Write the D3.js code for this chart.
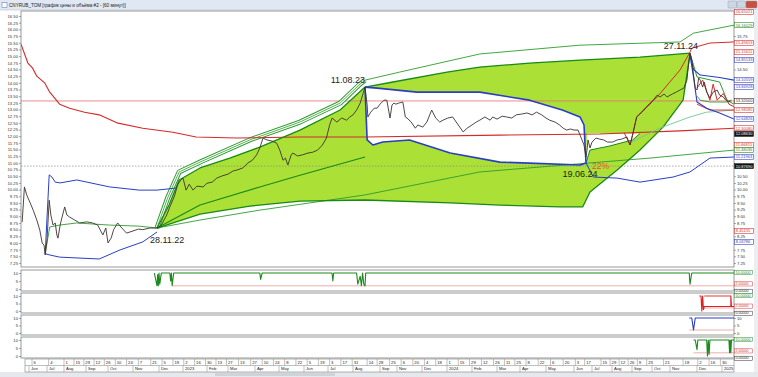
<!DOCTYPE html>
<html>
<head>
<meta charset="utf-8">
<script src="https://cdn.jsdelivr.net/npm/d3@7"></script>
<style>
html, body { margin: 0; padding: 0; background: #fff; }
svg { display: block; font-family: "Liberation Sans", Arial, sans-serif; }
</style>
</head>
<body>
<div id="chart"></div>
<script>
// ---- data ----
const price = [
  ["2022-05-26",8.78],["2022-05-28",10.1],["2022-05-30",9.8],["2022-06-03",9.5],["2022-06-08",9.23],["2022-06-14",8.86],["2022-06-19",8.48],["2022-06-23",8.0],["2022-06-26",7.92],["2022-06-28",7.55],
  ["2022-07-01",8.11],["2022-07-05",9.6],["2022-07-08",9.05],["2022-07-12",8.67],["2022-07-16",8.75],["2022-07-19",8.3],["2022-07-21",8.18],["2022-07-25",8.67],["2022-07-28",8.93],["2022-08-02",9.35],
  ["2022-08-05",9.05],["2022-08-09",8.97],["2022-08-16",8.86],["2022-08-23",8.75],["2022-09-02",8.79],["2022-09-10",8.75],["2022-09-17",8.67],["2022-09-24",8.3],["2022-09-28",8.56],["2022-10-01",8.0],
  ["2022-10-05",8.19],["2022-10-08",8.5],["2022-10-13",8.75],["2022-10-17",8.6],["2022-10-24",8.37],["2022-11-01",8.45],["2022-11-07",8.52],["2022-11-12",8.5],["2022-11-20",8.56],["2022-11-28",8.56],
  ["2022-12-04",8.67],["2022-12-11",9.05],["2022-12-15",9.35],["2022-12-21",9.76],["2022-12-25",10.17],["2022-12-29",10.36],["2023-01-01",10.43],["2023-01-05",9.98],["2023-01-09",10.2],["2023-01-14",9.98],
  ["2023-01-19",10.13],["2023-01-27",10.1],["2023-02-01",10.24],["2023-02-08",10.28],["2023-02-14",10.43],["2023-02-21",10.51],["2023-03-01",10.58],["2023-03-07",10.7],["2023-03-11",10.73],["2023-03-18",10.81],
  ["2023-03-24",11.0],["2023-03-29",11.1],["2023-04-03",11.3],["2023-04-07",11.56],["2023-04-11",11.93],["2023-04-16",11.86],["2023-04-22",11.82],["2023-04-28",11.74],["2023-05-02",11.48],["2023-05-06",11.1],
  ["2023-05-09",11.18],["2023-05-12",10.92],["2023-05-16",11.29],["2023-05-18",11.37],["2023-05-24",11.26],["2023-05-30",11.3],["2023-06-06",11.37],["2023-06-12",11.4],["2023-06-18",11.48],["2023-06-24",11.67],
  ["2023-06-29",11.93],["2023-07-03",12.42],["2023-07-06",12.68],["2023-07-12",12.53],["2023-07-18",12.68],["2023-07-24",12.6],["2023-07-28",12.72],["2023-08-01",12.8],["2023-08-04",12.98],["2023-08-07",13.24],
  ["2023-08-09",13.54],["2023-08-11",13.84],["2023-08-14",13.17],["2023-08-15",12.72],["2023-08-19",12.9],["2023-08-24",13.05],["2023-08-28",13.05],["2023-09-01",13.2],["2023-09-11",13.35],["2023-09-18",13.35],
  ["2023-09-26",12.68],["2023-10-01",13.17],["2023-10-13",13.24],["2023-10-25",13.2],["2023-11-03",13.24],["2023-11-08",13.28],["2023-11-11",12.72],["2023-11-13",12.68],["2023-11-18",12.53],["2023-11-23",12.3],
  ["2023-11-26",12.42],["2023-12-02",12.34],["2023-12-07",12.53],["2023-12-13",12.98],["2023-12-18",12.68],["2023-12-23",12.53],["2023-12-27",12.6],["2024-01-02",12.68],["2024-01-08",12.72],["2024-01-15",12.42],
  ["2024-01-21",12.16],["2024-01-26",12.3],["2024-02-01",12.42],["2024-02-06",12.53],["2024-02-10",12.6],["2024-02-16",12.72],["2024-02-22",12.6],["2024-02-25",12.72],["2024-03-01",12.64],["2024-03-08",12.75],
  ["2024-03-14",12.72],["2024-03-21",12.68],["2024-03-27",12.8],["2024-04-03",12.83],["2024-04-09",12.87],["2024-04-15",12.8],["2024-04-20",12.9],["2024-04-26",12.8],["2024-05-01",12.68],["2024-05-05",12.6],
  ["2024-05-11",12.53],["2024-05-16",12.42],["2024-05-20",12.3],["2024-05-24",12.23],["2024-05-28",12.27],["2024-06-01",12.23],["2024-06-07",12.23],["2024-06-13",11.86],["2024-06-16",11.67],["2024-06-19",11.22],
  ["2024-06-21",11.48],["2024-06-23",11.86],["2024-06-27",11.56],["2024-07-01",11.78],["2024-07-07",11.93],["2024-07-13",11.89],["2024-07-19",11.86],["2024-07-25",11.78],["2024-08-02",11.78],["2024-08-09",11.86],
  ["2024-08-16",11.89],["2024-08-24",11.97],["2024-08-29",11.67],["2024-09-02",12.04],["2024-09-08",12.72],["2024-09-16",12.9],["2024-09-23",13.09],["2024-09-28",13.2],["2024-10-03",13.35],["2024-10-10",13.54],
  ["2024-10-15",13.47],["2024-10-22",13.58],["2024-10-27",13.47],["2024-11-04",13.58],["2024-11-09",13.65],["2024-11-14",13.73],["2024-11-19",13.8],["2024-11-23",14.1],["2024-11-25",14.66],["2024-11-27",15.11],
  ["2024-11-28",14.85],["2024-11-29",14.29],["2024-11-30",13.8],["2024-12-01",13.73],["2024-12-03",14.18],["2024-12-05",14.1],["2024-12-08",13.84],["2024-12-10",14.03],["2024-12-13",13.65],["2024-12-17",13.43],
  ["2024-12-21",13.65],["2024-12-26",13.73],["2024-12-29",13.54],["2025-01-03",13.47],["2025-01-07",13.35],["2025-01-12",13.28],["2025-01-16",13.35]
];

const redMA = [["2022-05-25",15.45],["2022-05-31",14.74],["2022-06-07",14.55],["2022-06-14",14.25],["2022-06-27",14.0],["2022-07-06",13.65],["2022-07-24",13.2],["2022-08-09",13.05],["2022-08-30",12.9],["2022-09-19",12.8],["2022-10-12",12.5],["2022-11-12",12.3],["2022-12-19",12.15],["2023-01-18",11.97],["2023-03-11",11.93],["2023-05-27",11.97],["2023-08-11",11.97],["2024-03-04",12.04],["2024-07-13",12.08],["2024-11-14",12.2],["2025-01-20",12.3]];

// anchored from the June 2022 low
const vwapLow = [["2022-06-28",7.6],["2022-07-06",8.6],["2022-07-24",8.67],["2022-08-19",8.75],["2022-10-03",8.67],["2022-11-08",8.63],["2022-11-28",8.56],["2023-01-23",8.86],["2023-04-07",9.23],["2023-08-11",9.8],["2024-02-10",10.66],["2024-06-21",10.99],["2024-09-28",11.18],["2025-01-20",11.48]];
const bandLowUp = [["2022-06-28",7.6],["2022-07-05",10.55],["2022-07-10",10.47],["2022-07-16",10.28],["2022-07-25",10.25],["2022-08-19",10.36],["2022-10-03",10.1],["2022-11-08",9.98],["2022-11-28",9.98],["2022-12-24",10.06]];
const bandLowDn = [["2022-06-28",7.6],["2022-07-06",7.55],["2022-07-24",7.47],["2022-09-19",7.4],["2022-10-16",7.74],["2022-11-12",8.04],["2022-11-28",8.41]];

// anchored 28.11.22
const cone1Top = [["2022-11-28",8.56],["2022-12-14",9.42],["2022-12-27",10.36],["2023-01-23",10.81],["2023-03-03",11.18],["2023-04-07",11.59],["2023-05-27",12.23],["2023-07-16",12.98],["2023-08-11",13.84],["2023-10-07",14.03],["2024-01-01",14.4],["2024-02-10",14.59],["2024-04-12",14.74],["2024-06-10",14.85],["2024-09-13",14.96],["2024-11-27",15.11]];
const cone1Bottom = [["2022-11-28",8.56],["2023-01-23",9.08],["2023-03-26",9.38],["2023-05-27",9.57],["2023-08-11",9.61],["2024-01-05",9.5],["2024-03-05",9.42],["2024-05-16",9.35],["2024-06-14",9.35],["2024-06-27",9.91],["2024-08-09",10.73],["2024-09-13",11.48],["2024-10-20",12.34],["2024-11-18",13.35],["2024-11-27",15.08]];
const cone1Mid = [["2022-11-28",8.56],["2023-01-23",9.42],["2023-04-07",10.1],["2023-05-27",10.54],["2023-08-11",11.22]];
const outerTriple = [["2022-11-28",8.56],["2022-12-12",9.68],["2022-12-27",10.66],["2023-01-23",11.03],["2023-03-26",11.86],["2023-05-27",12.53],["2023-07-16",13.24],["2023-08-06",13.92],["2023-08-11",14.1]];
const outerUpper = [["2023-08-11",14.1],["2023-11-04",14.4],["2024-02-10",15.08],["2024-06-10",15.41],["2024-11-14",15.53],["2024-11-29",15.86],["2025-01-20",16.16]];

// anchored 11.08.23
const cone2Top = [["2023-08-11",13.84],["2023-08-28",13.8],["2023-11-25",13.65],["2024-02-10",13.65],["2024-04-12",13.35],["2024-05-19",12.98],["2024-06-10",12.72],["2024-06-16",12.42],["2024-06-19",11.0]];
const cone2Bottom = [["2023-08-11",13.84],["2023-08-14",11.86],["2023-08-22",11.67],["2023-09-08",11.78],["2023-11-16",11.86],["2024-01-05",11.37],["2024-03-05",11.03],["2024-04-12",10.99],["2024-06-10",10.92],["2024-06-19",11.0]];

// anchored 19.06.24
const cone3Top = [["2024-06-19",11.0],["2024-06-21",12.1],["2024-07-28",12.1],["2024-09-13",12.1]];
const cone3Bottom = [["2024-06-19",11.0],["2024-06-27",11.48],["2024-07-28",11.63],["2024-09-02",11.86],["2024-09-13",12.1]];
const band3Low = [["2024-06-19",11.0],["2024-07-03",10.47],["2024-08-09",10.43],["2024-09-13",10.28],["2024-11-05",10.47],["2024-11-27",10.66],["2024-12-17",11.18],["2025-01-20",11.22]];
const band3Mid = [["2024-08-29",11.75],["2024-10-14",12.3],["2024-11-27",12.72],["2024-12-13",12.9],["2025-01-20",12.98]];
const band3Up = [["2024-08-20",12.12],["2024-08-29",11.67],["2024-09-08",12.72],["2024-09-28",13.24],["2024-10-10",13.47],["2024-11-14",14.48],["2024-11-27",15.15],["2024-11-28",15.3],["2024-12-17",15.49],["2025-01-20",15.53]];

// anchored 27.11.24
const peakBlueUp = [["2024-11-27",15.11],["2024-11-29",14.5],["2024-12-05",14.29],["2024-12-29",14.2],["2025-01-20",14.1]];
const peakBlueDn = [["2024-11-27",15.04],["2024-11-29",14.22],["2024-12-01",13.28],["2024-12-13",13.05],["2024-12-29",12.87],["2025-01-20",12.64]];
const peakGreen = [["2024-11-27",15.11],["2024-12-01",14.22],["2024-12-29",14.03],["2025-01-09",13.35],["2025-01-20",13.2]];
const peakGreenLow = [["2024-12-01",13.5],["2024-12-05",13.35],["2024-12-17",13.28],["2025-01-09",13.28],["2025-01-14",13.35]];
const peakRed = [["2024-12-01",13.8],["2024-12-08",14.1],["2024-12-17",13.35],["2024-12-21",13.95],["2024-12-26",13.35],["2025-01-03",13.6],["2025-01-12",13.2],["2025-01-20",13.1]];
const peakRedLow = [["2024-12-01",13.2],["2024-12-17",12.98],["2025-01-20",12.98]];

const levelRed = 13.32;
const levelGray = 10.88;

const anchors = [
  { date: "2022-11-28", value: 8.56, text: "28.11.22" },
  { date: "2023-08-11", value: 13.84, text: "11.08.23" },
  { date: "2024-06-19", value: 11.22, text: "19.06.24" },
  { date: "2024-11-27", value: 15.11, text: "27.11.24" }
];
const dropText = "22%";

const markerValues = [16.65021,16.16029,15.49653,15.15611,14.85133,14.10559,13.84928,13.32000,12.98585,12.64826,12.30080,12.08630,11.66815,11.48036,11.21963,10.87690,8.45135,8.03786];
const markerKinds  = ["red","green","red","red","blue","blue","blue","level","red","blue","red","last","red","green","blue","last","red","blue"];

// lower indicator panels (0..10)
const signalA = [["2022-11-25",10],["2022-11-28",2],["2022-11-29",9],["2022-11-30",2],["2022-12-01",10],["2022-12-02",3],["2022-12-04",10],["2022-12-15",10],["2022-12-16",5],["2022-12-17",10],["2022-12-18",2],["2022-12-20",10],["2023-04-07",10],["2023-04-08",6],["2023-04-10",10],["2023-07-06",10],["2023-07-07",5],["2023-07-08",10],["2023-08-04",10],["2023-08-05",3],["2023-08-07",8],["2023-08-08",2],["2023-08-09",10],["2023-08-10",3],["2023-08-11",2],["2023-08-12",10],["2024-11-26",10],["2024-11-27",3],["2024-11-28",10],["2025-01-20",10]];
const signalB = [["2024-12-04",10],["2024-12-06",10],["2024-12-07",0],["2024-12-08",10],["2024-12-09",1],["2024-12-10",3],["2025-01-15",3],["2025-01-15",10],["2025-01-16",3],["2025-01-20",3]];
const signalBCap = [["2024-12-10",10],["2025-01-15",10]];
const signalC = [["2024-11-26",10],["2024-11-28",10],["2024-11-29",2],["2024-11-30",10],["2025-01-20",10]];
const signalD = [["2024-11-29",10],["2024-11-30",10],["2024-12-01",4],["2024-12-02",10],["2024-12-13",10],["2024-12-14",0],["2024-12-15",10],["2024-12-16",1],["2024-12-17",10],["2025-01-12",10],["2025-01-13",2],["2025-01-14",10],["2025-01-15",2],["2025-01-16",10],["2025-01-20",10]];
const panelLevel = [2, 2, 2, 2];
const panelLevelStart = ["2022-12-18", "2024-12-06", "2024-11-26", "2024-11-29"];

const monthTicks = ["2022-06-01","2022-07-01","2022-08-01","2022-09-01","2022-10-01","2022-11-01","2022-12-01","2023-01-01","2023-02-01","2023-03-01","2023-04-01","2023-05-01","2023-06-01","2023-07-01","2023-08-01","2023-09-01","2023-11-01","2023-12-01","2024-01-01","2024-02-01","2024-03-01","2024-04-01","2024-05-01","2024-06-01","2024-07-01","2024-08-01","2024-09-01","2024-10-01","2024-11-01","2024-12-01","2025-01-01"];

// ---- layout ----
const W = 758, H = 377;
const plot = { left: 21, right: 734, top: 11, bottom: 267 };
const panels = [
  { top: 270, bottom: 291 },
  { top: 293, bottom: 313 },
  { top: 315, bottom: 335 },
  { top: 337, bottom: 358 }
];
// time axis of the terminal is bar-indexed, so the scale is piecewise
const xBreaks = [["2022-05-25",21],["2022-06-01",29],["2022-07-01",47],["2022-08-01",64],["2022-09-01",86],["2022-10-01",108],["2022-11-01",133],["2022-11-28",157],["2022-12-01",159],["2023-01-01",183],["2023-02-01",207],["2023-03-01",228],["2023-04-01",255],["2023-05-01",279],["2023-06-01",304],["2023-07-01",328],["2023-08-01",353],["2023-08-11",365],["2023-09-01",380],["2023-10-01",392],["2023-11-01",397],["2023-12-01",422],["2024-01-01",447],["2024-02-01",472],["2024-03-01",497],["2024-04-01",520],["2024-05-01",546],["2024-06-01",574],["2024-06-19",586],["2024-07-01",592],["2024-08-01",612],["2024-09-01",632],["2024-10-01",652],["2024-11-01",670],["2024-11-27",690],["2024-12-01",697],["2025-01-01",722],["2025-01-20",734]];

const parse = d3.utcParse("%Y-%m-%d");
const P = arr => arr.map(([d, v]) => [parse(d), v]);

const x = d3.scaleUtc()
  .domain(xBreaks.map(d => parse(d[0])))
  .range(xBreaks.map(d => d[1]));
const y = d3.scaleLinear().domain([7.1, 16.69]).range([plot.bottom, plot.top]);

const line = d3.line().x(d => x(d[0])).y(d => y(d[1]));
const poly = (top, bottom) => line(P(top).concat(P(bottom).reverse())) + "Z";

const LIME = "#abe036", DKGREEN = "#188a18", GREEN = "#2d9d2d", BLUE = "#2b3ec2",
      RED = "#d42a2a", PRICE = "#3e3230";

const svg = d3.select("#chart").append("svg").attr("width", W).attr("height", H);
svg.append("rect").attr("width", W).attr("height", H).attr("fill", "#fff");

// window chrome
svg.append("rect").attr("x", 0).attr("y", 0).attr("width", W).attr("height", 10).attr("fill", "#dfe8f3");
svg.append("line").attr("x1", 0).attr("x2", W).attr("y1", 10).attr("y2", 10).attr("stroke", "#b9c4d2").attr("stroke-width", 0.6);
svg.append("rect").attr("x", 2).attr("y", 2.5).attr("width", 5).attr("height", 5).attr("fill", "#fff").attr("stroke", "#6a86ad").attr("stroke-width", 0.6);
svg.append("text").attr("x", 9).attr("y", 7).attr("font-size", 4.6).attr("fill", "#222")
  .text("CNYRUB_TOM [график цены и объёма #2 - [60 минут]]");
[[728, "#cdd7e4"], [737, "#cdd7e4"], [746, "#c9503f"]].forEach(([bx, c]) => {
  svg.append("rect").attr("x", bx).attr("y", 1).attr("width", bx === 746 ? 11 : 8.5).attr("height", 7)
    .attr("rx", 1).attr("fill", c).attr("stroke", "#8b97a8").attr("stroke-width", 0.4);
});
svg.append("rect").attr("x", 754).attr("y", 11).attr("width", 4).attr("height", 361).attr("fill", "#eceef2");
svg.append("rect").attr("x", 0).attr("y", 372).attr("width", W).attr("height", 5).attr("fill", "#e5e8ec");
svg.append("rect").attr("x", 215).attr("y", 373).attr("width", 120).attr("height", 3).attr("fill", "#cfd4da");

// ---- main price panel ----
svg.append("clipPath").attr("id", "clipMain").append("rect")
  .attr("x", plot.left).attr("y", plot.top).attr("width", plot.right - plot.left).attr("height", plot.bottom - plot.top);
const g = svg.append("g").attr("clip-path", "url(#clipMain)");

// filled regions
g.append("path").attr("d", poly(cone1Top, cone1Bottom)).attr("fill", LIME);
g.append("path").attr("d", poly(cone2Top, cone2Bottom)).attr("fill", "#fff");
g.append("path").attr("d", poly(cone3Top, cone3Bottom)).attr("fill", "#fff");

// levels
g.append("line").attr("x1", plot.left).attr("x2", plot.right).attr("y1", y(levelRed)).attr("y2", y(levelRed))
  .attr("stroke", "#e27070").attr("stroke-width", 0.8);
g.append("line").attr("x1", plot.left).attr("x2", plot.right).attr("y1", y(levelGray)).attr("y2", y(levelGray))
  .attr("stroke", "#8a8a8a").attr("stroke-width", 0.7).attr("stroke-dasharray", "1.5,1.5");

const draw = (data, color, width) => g.append("path").attr("d", line(P(data))).attr("fill", "none")
  .attr("stroke", color).attr("stroke-width", width).attr("stroke-linejoin", "round");

// outer (triple) channel line
draw(outerTriple, GREEN, 5);
draw(outerTriple, "#fff", 3);
draw(outerTriple, GREEN, 0.8);
draw(outerUpper, GREEN, 0.9);

draw(redMA, RED, 1.1);
draw(vwapLow, GREEN, 0.9);
draw(bandLowUp, BLUE, 1);
draw(bandLowDn, BLUE, 1);

draw(cone1Mid, DKGREEN, 1.1);
draw(cone1Top, DKGREEN, 1.3);
draw(cone1Bottom, DKGREEN, 1.3);
draw(cone3Bottom, DKGREEN, 1);

draw(band3Low, BLUE, 1);
draw(band3Mid, "#74c49a", 0.9);
draw(band3Up, RED, 1);

draw(cone2Top, BLUE, 1.6);
draw(cone2Bottom, BLUE, 1.6);

draw(peakGreenLow, GREEN, 0.9);
draw(peakGreen, GREEN, 1);
draw(peakRedLow, RED, 0.9);
draw(peakRed, RED, 1);
draw(peakBlueUp, BLUE, 1.1);
draw(peakBlueDn, BLUE, 1.1);

draw(price, PRICE, 0.9);

// anchor labels
const lab = svg.append("g").attr("font-size", 9).attr("fill", "#1e1e1e");
const a = anchors.map(d => ({ ...d, px: x(parse(d.date)), py: y(d.value) }));
lab.append("text").attr("x", a[0].px - 7).attr("y", a[0].py + 15).text(a[0].text);
lab.append("text").attr("x", a[1].px).attr("y", a[1].py - 4).attr("text-anchor", "end").text(a[1].text);
lab.append("text").attr("x", a[2].px - 6).attr("y", a[2].py + 19.5).attr("text-anchor", "middle").text(a[2].text);
lab.append("text").attr("x", a[3].px + 8).attr("y", a[3].py - 4).attr("text-anchor", "end").text(a[3].text);
lab.append("text").attr("x", a[2].px + 6).attr("y", a[2].py + 12).attr("font-size", 8.5).attr("fill", "#e8503a").text(dropText);

// frame + y axes
svg.append("rect").attr("x", plot.left).attr("y", plot.top).attr("width", plot.right - plot.left)
  .attr("height", plot.bottom - plot.top).attr("fill", "none").attr("stroke", "#808080").attr("stroke-width", 0.8);

const yTicks = d3.range(7.25, 16.51, 0.25);
const fmt2 = d3.format(".2f");
// the right-hand tick labels are hidden where a coloured marker box covers them
const freeRight = yTicks.filter(t => markerValues.every(m => Math.abs(y(t) - y(m)) > 5.2));
const axL = svg.append("g").attr("transform", `translate(${plot.left},0)`)
  .call(d3.axisLeft(y).tickValues(yTicks).tickFormat(fmt2).tickSize(2).tickPadding(1));
const axR = svg.append("g").attr("transform", `translate(${plot.right},0)`)
  .call(d3.axisRight(y).tickValues(freeRight).tickFormat(fmt2).tickSize(2).tickPadding(1));
[axL, axR].forEach(ax => {
  ax.select(".domain").remove();
  ax.selectAll("line").attr("stroke", "#555").attr("stroke-width", 0.5);
  ax.selectAll("text").attr("font-size", 4.2).attr("fill", "#333").attr("font-family", "Liberation Sans, Arial, sans-serif");
});

// coloured value markers on the right
const kindColor = { red: "#d23434", green: "#2a8a2a", blue: "#3444c2", level: "#333", last: "#222" };
const fmt5 = d3.format(".5f");
markerValues.forEach((v, i) => {
  const k = markerKinds[i];
  const yy = y(v);
  svg.append("rect").attr("x", 734.5).attr("y", yy - 2.5).attr("width", 19).attr("height", 5)
    .attr("fill", k === "last" ? "#111" : "#fff").attr("stroke", kindColor[k]).attr("stroke-width", 0.6);
  svg.append("text").attr("x", 735.8).attr("y", yy + 1.4).attr("font-size", 4)
    .attr("fill", k === "last" ? "#fff" : kindColor[k]).text(fmt5(v));
});

// ---- indicator panels ----
const signals = [signalA, signalB, signalC, signalD];
const sigColor = ["#1b8a1b", "#e02020", "#2b3ec2", "#1b8a1b"];
const sigBoxed = [true, true, false, true];
panels.forEach((p, i) => {
  const ys = d3.scaleLinear().domain([0, 10]).range([p.bottom - 2, p.top + 3]);
  const ln = d3.line().x(d => x(d[0])).y(d => ys(d[1]));
  svg.append("rect").attr("x", plot.left).attr("y", p.top).attr("width", plot.right - plot.left)
    .attr("height", p.bottom - p.top).attr("fill", "#fff").attr("stroke", "#808080").attr("stroke-width", 0.8);
  const lv = [[parse(panelLevelStart[i]), panelLevel[i]], [x.domain()[x.domain().length - 1], panelLevel[i]]];
  svg.append("path").attr("d", ln(lv)).attr("stroke", "#e89a9a").attr("stroke-width", 0.8).attr("fill", "none");
  svg.append("path").attr("d", ln(P(signals[i]))).attr("stroke", sigColor[i]).attr("stroke-width", 1.1)
    .attr("fill", "none").attr("stroke-linejoin", "round");
  if (i === 1) svg.append("path").attr("d", ln(P(signalBCap))).attr("stroke", sigColor[i]).attr("stroke-width", 0.9).attr("fill", "none");

  const axl = svg.append("g").attr("transform", `translate(${plot.left},0)`)
    .call(d3.axisLeft(ys).tickValues([0, 5, 10]).tickSize(2).tickPadding(1));
  axl.select(".domain").remove();
  axl.selectAll("line").attr("stroke", "#555").attr("stroke-width", 0.5);
  axl.selectAll("text").attr("font-size", 4.2).attr("fill", "#333");

  if (sigBoxed[i]) {
    [[10, "#2a8a2a", -0.5], [panelLevel[i], "#d23434", -2], [0, "#333", 2.2]].forEach(([v, c, dy]) => {
      const yy = ys(v) + dy;
      svg.append("rect").attr("x", 734.5).attr("y", yy - 2).attr("width", 18).attr("height", 4.2)
        .attr("fill", "#fff").attr("stroke", c).attr("stroke-width", 0.5);
      svg.append("text").attr("x", 735.6).attr("y", yy + 1.2).attr("font-size", 3.6).attr("fill", c).text(fmt5(v));
    });
  } else {
    const axr = svg.append("g").attr("transform", `translate(${plot.right},0)`)
      .call(d3.axisRight(ys).tickValues([0, 5, 10]).tickSize(2).tickPadding(1));
    axr.select(".domain").remove();
    axr.selectAll("line").attr("stroke", "#555").attr("stroke-width", 0.5);
    axr.selectAll("text").attr("font-size", 4.2).attr("fill", "#333");
  }
});

// ---- two-row time axis ----
const axTop = 359, axMid = 365.5, axBot = 372;
const ta = svg.append("g");
ta.append("rect").attr("x", plot.left + 4).attr("y", axTop).attr("width", plot.right - plot.left - 4)
  .attr("height", axBot - axTop).attr("fill", "#fff").attr("stroke", "#808080").attr("stroke-width", 0.6);
ta.append("line").attr("x1", plot.left + 4).attr("x2", plot.right).attr("y1", axMid).attr("y2", axMid)
  .attr("stroke", "#808080").attr("stroke-width", 0.5);

let lastX = -99;
const dayTicks = x.ticks(d3.utcMonday.every(2)).filter(d => {
  const px = x(d);
  if (px - lastX < 9 || px < plot.left + 4 || px > plot.right - 6) return false;
  lastX = px; return true;
});
dayTicks.forEach(d => {
  const px = x(d);
  ta.append("line").attr("x1", px).attr("x2", px).attr("y1", axTop).attr("y2", axMid).attr("stroke", "#808080").attr("stroke-width", 0.5);
  ta.append("text").attr("x", px + 1.5).attr("y", axMid - 1.6).attr("font-size", 4.2).attr("fill", "#222").text(d.getUTCDate());
});
const monthFmt = d => d.getUTCMonth() === 0 ? d3.utcFormat("%Y")(d) : d3.utcFormat("%b")(d);
P(monthTicks.map(d => [d, 0])).forEach(([d]) => {
  const px = x(d);
  ta.append("line").attr("x1", px).attr("x2", px).attr("y1", axMid).attr("y2", axBot).attr("stroke", "#808080").attr("stroke-width", 0.5);
  ta.append("text").attr("x", px + 2).attr("y", axBot - 1.6).attr("font-size", 4.2).attr("fill", "#222").text(monthFmt(d));
});
</script>
</body>
</html>
